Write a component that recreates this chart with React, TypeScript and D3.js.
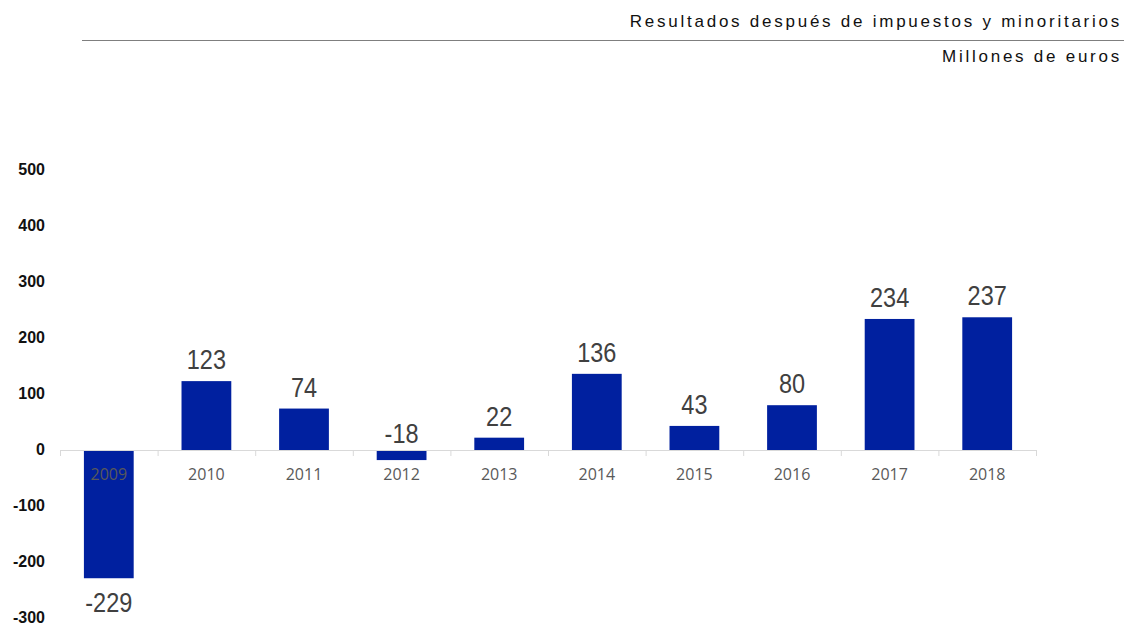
import React, { useEffect, useRef } from 'react';
import * as d3 from 'd3';

const years = ['2009', '2010', '2011', '2012', '2013', '2014', '2015', '2016', '2017', '2018'];
const results = [-229, 123, 74, -18, 22, 136, 43, 80, 234, 237];
const yTicks = [500, 400, 300, 200, 100, 0, -100, -200, -300];

function App() {
  const ref = useRef<SVGSVGElement>(null);

  useEffect(() => {
    const width = 1124;
    const height = 624;
    const svg = d3.select(ref.current);
    svg.selectAll('*').remove();
    svg.attr('width', width).attr('height', height);

    // header
    svg.append('text')
      .attr('x', 1122).attr('y', 27)
      .attr('text-anchor', 'end')
      .style('font-family', 'Liberation Sans, Arial, sans-serif')
      .style('font-size', '17px')
      .style('letter-spacing', '2.75px')
      .attr('fill', '#111')
      .text('Resultados después de impuestos y minoritarios');
    svg.append('line')
      .attr('x1', 82).attr('x2', 1124).attr('y1', 40.5).attr('y2', 40.5)
      .attr('stroke', '#7f7f7f').attr('stroke-width', 1);
    svg.append('text')
      .attr('x', 1122).attr('y', 62)
      .attr('text-anchor', 'end')
      .style('font-family', 'Liberation Sans, Arial, sans-serif')
      .style('font-size', '17px')
      .style('letter-spacing', '2.75px')
      .attr('fill', '#111')
      .text('Millones de euros');

    const x = d3.scaleBand().domain(years).range([60, 1036]).paddingInner(0.49).paddingOuter(0.245);
    const y = d3.scaleLinear().domain([-300, 500]).range([618, 170]);

    // y labels
    svg.append('g').selectAll('text')
      .data(yTicks)
      .enter()
      .append('text')
      .attr('x', 45)
      .attr('y', d => y(d) + 5)
      .attr('text-anchor', 'end')
      .style('font-family', 'Liberation Sans, Arial, sans-serif')
      .style('font-size', '16px')
      .style('font-weight', 'bold')
      .attr('fill', '#111')
      .text(d => d);

    // bars
    svg.append('g').selectAll('rect')
      .data(results)
      .enter()
      .append('rect')
      .attr('x', (d, i) => x(years[i])!)
      .attr('y', d => y(Math.max(0, d)))
      .attr('width', x.bandwidth())
      .attr('height', d => Math.abs(y(d) - y(0)))
      .attr('fill', '#00209f');

    // category axis
    const step = x.step();
    const axis = svg.append('g');
    axis.append('line')
      .attr('x1', 60).attr('x2', 1036).attr('y1', y(0) + 0.5).attr('y2', y(0) + 0.5)
      .attr('stroke', '#d9d9d9');
    axis.selectAll('line.tick')
      .data(d3.range(years.length + 1))
      .enter()
      .append('line')
      .attr('class', 'tick')
      .attr('x1', i => 60 + i * step + 0.5)
      .attr('x2', i => 60 + i * step + 0.5)
      .attr('y1', y(0)).attr('y2', y(0) + 6)
      .attr('stroke', '#d9d9d9');
    axis.selectAll('text')
      .data(years)
      .enter()
      .append('text')
      .attr('x', d => x(d)! + x.bandwidth() / 2)
      .attr('y', y(0) + 30)
      .attr('text-anchor', 'middle')
      .style('font-family', 'Open Sans, sans-serif')
      .style('font-size', '16px')
      .attr('fill', '#595959')
      .text(d => d);

    // value labels (short negative bars get their label above the axis)
    const labelY = (d: number) => {
      if (d >= 0) return y(d) - 12;
      if (y(d) - y(0) < 40) return y(0) - 7;
      return y(d) + 34;
    };
    svg.append('g').selectAll('text')
      .data(results)
      .enter()
      .append('text')
      .attr('transform', (d, i) => `translate(${x(years[i])! + x.bandwidth() / 2},${labelY(d)}) scale(0.84,1)`)
      .attr('text-anchor', 'middle')
      .style('font-family', 'Liberation Sans Narrow, Arial Narrow, Liberation Sans, sans-serif')
      .style('font-size', '28px')
      .attr('fill', '#404040')
      .text(d => d);
  }, []);

  return <svg ref={ref} style={{ display: 'block', position: 'absolute', left: 0, top: 0 }} />;
}

export default App;
